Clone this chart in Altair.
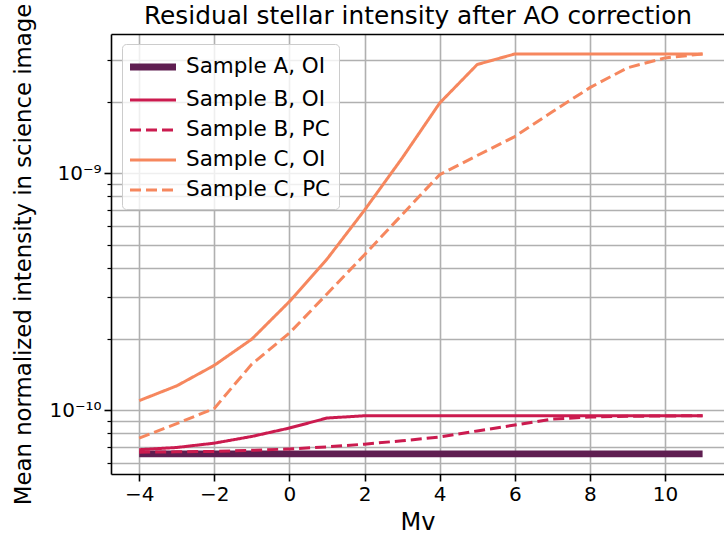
import altair as alt
import pandas as pd

# Stellar magnitude grid
mv = [-4, -3, -2, -1, 0, 1, 2, 3, 4, 5, 6, 7, 8, 9, 10, 11]

series_names = ["Sample A, OI", "Sample B, OI", "Sample B, PC", "Sample C, OI", "Sample C, PC"]
series_colors = ["#5f1e51", "#cb1b4f", "#cb1b4f", "#f6875e", "#f6875e"]
series_widths = [6.8, 3.0, 3.0, 3.0, 3.0]
series_dashes = [[1, 0], [1, 0], [11, 5], [1, 0], [11, 5]]

# Mean normalized residual intensity per magnitude
a_oi = [6.56e-11, 6.56e-11, 6.56e-11, 6.56e-11, 6.56e-11, 6.56e-11, 6.56e-11, 6.56e-11,
        6.56e-11, 6.56e-11, 6.56e-11, 6.56e-11, 6.56e-11, 6.56e-11, 6.56e-11, 6.56e-11]
b_oi = [6.83e-11, 6.98e-11, 7.28e-11, 7.77e-11, 8.43e-11, 9.29e-11, 9.50e-11, 9.50e-11,
        9.50e-11, 9.50e-11, 9.50e-11, 9.50e-11, 9.50e-11, 9.50e-11, 9.50e-11, 9.50e-11]
b_pc = [6.67e-11, 6.69e-11, 6.72e-11, 6.79e-11, 6.88e-11, 7.02e-11, 7.21e-11, 7.45e-11,
        7.73e-11, 8.20e-11, 8.68e-11, 9.20e-11, 9.38e-11, 9.45e-11, 9.48e-11, 9.50e-11]
c_oi = [1.10e-10, 1.27e-10, 1.55e-10, 2.00e-10, 2.88e-10, 4.35e-10, 7.00e-10, 1.16e-09,
        1.98e-09, 2.88e-09, 3.19e-09, 3.19e-09, 3.19e-09, 3.19e-09, 3.19e-09, 3.19e-09]
c_pc = [7.65e-11, 8.80e-11, 1.02e-10, 1.57e-10, 2.12e-10, 3.10e-10, 4.54e-10, 6.70e-10,
        9.88e-10, 1.19e-09, 1.43e-09, 1.82e-09, 2.30e-09, 2.79e-09, 3.07e-09, 3.19e-09]

x_ticks = [-4, -2, 0, 2, 4, 6, 8, 10]
y_ticks = [6e-11, 7e-11, 8e-11, 9e-11,
           1e-10, 2e-10, 3e-10, 4e-10, 5e-10, 6e-10, 7e-10, 8e-10, 9e-10,
           1e-09, 2e-09, 3e-09]

rows = []
for name, vals in zip(series_names, [a_oi, b_oi, b_pc, c_oi, c_pc]):
    for m, v in zip(mv, vals):
        rows.append({"Mv": m, "intensity": v, "series": name})
df = pd.DataFrame(rows)

FONT = "DejaVu Sans"
x_scale = alt.Scale(domain=[-4.75, 11.57], nice=False, zero=False)
y_scale = alt.Scale(type="log", domain=[5.395e-11, 3.873e-09], nice=False)

is_decade = "abs(log(datum.value)/LN10 - round(log(datum.value)/LN10)) < 0.001"

lines = alt.Chart(df).mark_line(clip=True).encode(
    x=alt.X("Mv:Q", scale=x_scale,
            axis=alt.Axis(values=x_ticks, title="Mv", grid=True, tickSize=7,
                          labelPadding=3, titlePadding=6)),
    y=alt.Y("intensity:Q", scale=y_scale,
            axis=alt.Axis(values=y_ticks, title="Mean normalized intensity in science image",
                          titleFontSize=22.8, grid=True, titleX=-76, titleY=220,
                          labelExpr="abs(datum.value - 1e-9) < 1e-12 ? '10⁻⁹' : "
                                    "(abs(datum.value - 1e-10) < 1e-13 ? '10⁻¹⁰' : '')",
                          tickSize={"condition": {"test": is_decade, "value": 7}, "value": 4},
                          tickWidth={"condition": {"test": is_decade, "value": 1.6}, "value": 1.2},
                          labelPadding=3)),
    color=alt.Color("series:N", scale=alt.Scale(domain=series_names, range=series_colors),
                    legend=alt.Legend(title=None)),
    strokeWidth=alt.StrokeWidth("series:N",
                                scale=alt.Scale(type="ordinal", domain=series_names,
                                                range=series_widths),
                                legend=alt.Legend(title=None)),
    strokeDash=alt.StrokeDash("series:N",
                              scale=alt.Scale(domain=series_names, range=series_dashes),
                              legend=alt.Legend(title=None)),
    detail="series:N",
)

# Upper frame line (top spine) carrying the chart title
top_frame = alt.Chart(df).mark_line(opacity=0).encode(
    x=alt.X("Mv:Q", scale=x_scale,
            axis=alt.Axis(orient="top", labels=False, ticks=False, grid=False,
                          title="Residual stellar intensity after AO correction",
                          titleFontSize=24.8, titlePadding=6,
                          domainColor="black", domainWidth=1.6)),
    y=alt.Y("intensity:Q", scale=y_scale),
)

chart = alt.layer(lines, top_frame).resolve_axis(x="independent").properties(
    width=613,
    height=440,
    autosize=alt.AutoSizeParams(type="none"),
    padding={"left": 111, "top": 34, "right": 0, "bottom": 62},
).configure_view(
    stroke=None
).configure_axis(
    labelFont=FONT, titleFont=FONT, labelFontSize=20, titleFontSize=24,
    titleFontWeight="normal", labelColor="black", titleColor="black",
    gridColor="#b0b0b0", gridWidth=1.6, gridOpacity=1,
    domainColor="black", domainWidth=1.6, tickColor="black", tickWidth=1.6,
    labelFlush=False,
).configure_legend(
    orient="none", legendX=11, legendY=10,
    labelFont=FONT, labelFontSize=21.5, labelColor="black",
    symbolType="M-2,0H2", symbolSize=529, symbolOffset=8, labelOffset=18,
    rowPadding=6, padding=8,
    fillColor="rgba(255,255,255,0.8)", strokeColor="#cccccc", cornerRadius=4,
    labelLimit=300,
)

chart.save("out.html", embed_options={"renderer": "svg", "actions": False})
